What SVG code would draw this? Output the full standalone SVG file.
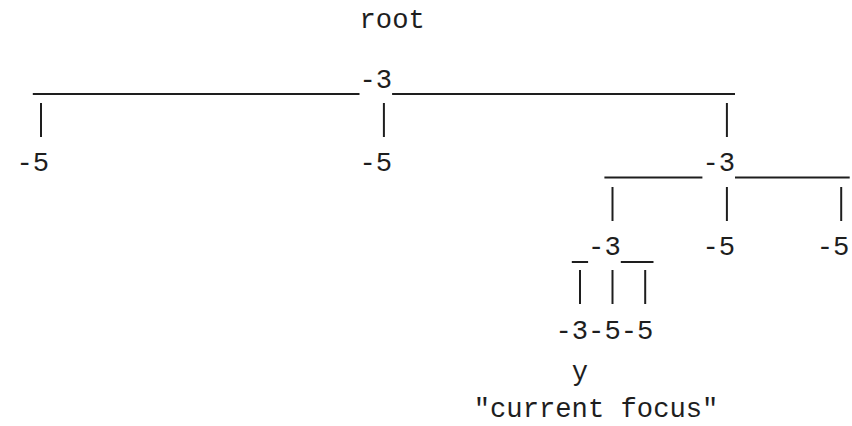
<svg xmlns="http://www.w3.org/2000/svg" width="852" height="426" viewBox="0 0 852 426">
<style>
text{font-family:"Liberation Mono","DejaVu Sans Mono",monospace;font-size:27.2px;fill:#1e1e1e}
.c line{stroke:#1e1e1e;stroke-width:2}
</style>
<rect width="852" height="426" fill="#fff"/>
<g id="connectors" class="c">
<line x1="32.8" y1="94" x2="359.5" y2="94"/>
<line x1="392.1" y1="94" x2="735" y2="94"/>
<line x1="41" y1="103" x2="41" y2="137"/>
<line x1="383.9" y1="103" x2="383.9" y2="137"/>
<line x1="726.9" y1="103" x2="726.9" y2="137"/>
<line x1="604.4" y1="177.5" x2="702.4" y2="177.5"/>
<line x1="735" y1="177.5" x2="849.7" y2="177.5"/>
<line x1="612.5" y1="187" x2="612.5" y2="221"/>
<line x1="726.9" y1="187" x2="726.9" y2="221"/>
<line x1="841.2" y1="187" x2="841.2" y2="221"/>
<line x1="571.8" y1="262" x2="588.1" y2="262"/>
<line x1="620.8" y1="262" x2="653.5" y2="262"/>
<line x1="580" y1="270" x2="580" y2="304"/>
<line x1="612.5" y1="270" x2="612.5" y2="304"/>
<line x1="645.2" y1="270" x2="645.2" y2="304"/>
</g>
<g id="root-label"><text x="359.5" y="28">root</text></g>
<g id="n-root"><text x="359.5" y="87.5">-3</text></g>
<g id="n-a"><text x="16.5" y="171">-5</text></g>
<g id="n-b"><text x="359.5" y="171">-5</text></g>
<g id="n-c"><text x="702.4" y="171">-3</text></g>
<g id="n-d"><text x="588.1" y="255">-3</text></g>
<g id="n-e"><text x="702.4" y="255">-5</text></g>
<g id="n-f"><text x="816.7" y="255">-5</text></g>
<g id="n-g"><text x="555.4" y="338.5">-3</text></g>
<g id="n-h"><text x="588.1" y="338.5">-5</text></g>
<g id="n-i"><text x="620.8" y="338.5">-5</text></g>
<g id="focus-label"><text x="571.8" y="380">y</text><text x="473.7" y="417">"current focus"</text></g>
</svg>
